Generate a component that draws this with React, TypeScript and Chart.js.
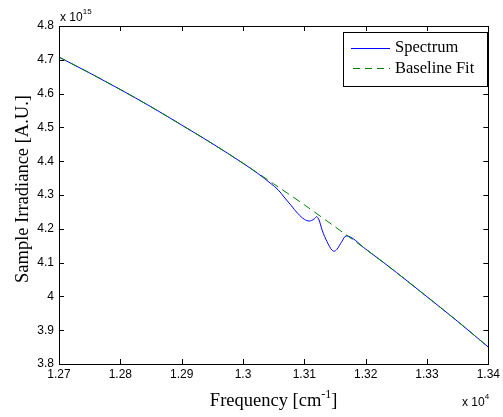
import React, { useEffect, useRef } from "react";
import { Chart, registerables } from "chart.js";

Chart.register(...registerables);

// Frequency values in units of 1e4 cm^-1, irradiance in units of 1e15
const baselineFreq = [1.270, 1.275, 1.280, 1.285, 1.290, 1.295, 1.300, 1.305, 1.310, 1.315, 1.320, 1.325, 1.330, 1.335, 1.340];
const baselineVals = [4.708, 4.661, 4.612, 4.561, 4.507, 4.452, 4.394, 4.333, 4.271, 4.206, 4.140, 4.071, 3.999, 3.926, 3.850];

const spectrumFreq = [1.270, 1.275, 1.280, 1.285, 1.290, 1.295, 1.300, 1.3024, 1.3035, 1.3046, 1.3057, 1.3067, 1.3078, 1.3089, 1.3100, 1.3108, 1.3116, 1.3120, 1.3124, 1.3129, 1.3137, 1.3145, 1.3149, 1.3153, 1.3161, 1.3168, 1.320, 1.325, 1.330, 1.335, 1.340];
const spectrumVals = [4.708, 4.661, 4.612, 4.561, 4.507, 4.452, 4.394, 4.364, 4.349, 4.333, 4.316, 4.294, 4.270, 4.246, 4.228, 4.223, 4.229, 4.236, 4.226, 4.196, 4.162, 4.137, 4.134, 4.139, 4.162, 4.179, 4.140, 4.071, 3.999, 3.926, 3.850];

const xTicks = [1.27, 1.28, 1.29, 1.30, 1.31, 1.32, 1.33, 1.34];
const yTicks = [3.8, 3.9, 4.0, 4.1, 4.2, 4.3, 4.4, 4.5, 4.6, 4.7, 4.8];

const legendLabels = ["Spectrum", "Baseline Fit"];
const xTitle = "Frequency [cm";
const xTitleSup = "-1";
const yTitle = "Sample Irradiance [A.U.]";

const SERIF = "'Liberation Serif', 'Times New Roman', serif";
const SANS = "'Liberation Sans', Arial, sans-serif";

const fmt = (v: number) => String(Math.round(v * 1000) / 1000);

const decorPlugin = {
  id: "decor",
  afterDraw(chart: any) {
    const { ctx, chartArea } = chart;
    const { left, right, top, bottom } = chartArea;
    const xs = chart.scales.x;
    const ys = chart.scales.y;
    ctx.save();
    // box
    ctx.strokeStyle = "#000";
    ctx.lineWidth = 1;
    ctx.beginPath();
    ctx.rect(Math.round(left) + 0.5, Math.round(top) + 0.5, Math.round(right - left), Math.round(bottom - top));
    ctx.stroke();
    // inward ticks
    const tl = 5;
    ctx.beginPath();
    xTicks.forEach((v) => {
      const px = Math.round(xs.getPixelForValue(v)) + 0.5;
      ctx.moveTo(px, bottom);
      ctx.lineTo(px, bottom - tl);
      ctx.moveTo(px, top);
      ctx.lineTo(px, top + tl);
    });
    yTicks.forEach((v) => {
      const py = Math.round(ys.getPixelForValue(v)) + 0.5;
      ctx.moveTo(left, py);
      ctx.lineTo(left + tl, py);
      ctx.moveTo(right, py);
      ctx.lineTo(right - tl, py);
    });
    ctx.stroke();

    // exponent labels
    ctx.fillStyle = "#000";
    ctx.textBaseline = "alphabetic";
    ctx.textAlign = "left";
    ctx.font = `12px ${SANS}`;
    ctx.fillText("x 10", left + 1, top - 5);
    let w = ctx.measureText("x 10").width;
    ctx.font = `8px ${SANS}`;
    ctx.fillText("15", left + 1 + w, top - 12);

    ctx.font = `12px ${SANS}`;
    ctx.fillText("x 10", 462, 406);
    w = ctx.measureText("x 10").width;
    ctx.font = `8px ${SANS}`;
    ctx.fillText("4", 462 + w, 399);

    // x title
    const tf = 18.5;
    ctx.font = `${tf}px ${SERIF}`;
    const w1 = ctx.measureText(xTitle).width;
    ctx.font = `12px ${SERIF}`;
    const w2 = ctx.measureText(xTitleSup).width;
    ctx.font = `${tf}px ${SERIF}`;
    const w3 = ctx.measureText("]").width;
    const total = w1 + w2 + w3;
    const cx = (left + right) / 2;
    let sx = cx - total / 2;
    const by = 406;
    ctx.fillText(xTitle, sx, by);
    sx += w1;
    ctx.font = `12px ${SERIF}`;
    ctx.fillText(xTitleSup, sx, by - 8);
    sx += w2;
    ctx.font = `${tf}px ${SERIF}`;
    ctx.fillText("]", sx, by);

    // y title
    ctx.save();
    ctx.translate(28, (top + bottom) / 2 - 6);
    ctx.rotate(-Math.PI / 2);
    ctx.textAlign = "center";
    ctx.font = `${tf}px ${SERIF}`;
    ctx.fillText(yTitle, 0, 0);
    ctx.restore();

    // legend
    const lx = 343, ly = 32, lw = 144, lh = 54;
    ctx.fillStyle = "#fff";
    ctx.fillRect(lx, ly, lw, lh);
    ctx.strokeStyle = "#000";
    ctx.lineWidth = 1;
    ctx.strokeRect(lx + 0.5, ly + 0.5, lw, lh);
    ctx.beginPath();
    ctx.strokeStyle = "#0000ff";
    ctx.moveTo(351, 48.5);
    ctx.lineTo(390, 48.5);
    ctx.stroke();
    ctx.beginPath();
    ctx.strokeStyle = "#008000";
    ctx.setLineDash([7, 5]);
    ctx.moveTo(353, 68.5);
    ctx.lineTo(390, 68.5);
    ctx.stroke();
    ctx.setLineDash([]);
    ctx.fillStyle = "#000";
    ctx.font = `16.5px ${SERIF}`;
    ctx.textAlign = "left";
    ctx.textBaseline = "middle";
    ctx.fillText(legendLabels[0], 395, 48);
    ctx.fillText(legendLabels[1], 395, 69);
    ctx.restore();
  },
};

export default function App() {
  const ref = useRef<HTMLCanvasElement>(null);
  useEffect(() => {
    document.body.style.margin = "0";
    const canvas = ref.current;
    if (!canvas) return;
    const chart = new Chart(canvas, {
      type: "line",
      data: {
        datasets: [
          {
            label: legendLabels[1],
            data: baselineFreq.map((f, i) => ({ x: f, y: baselineVals[i] })),
            borderColor: "#008000",
            borderWidth: 1,
            borderDash: [8, 5],
            pointRadius: 0,
            tension: 0.3,
            fill: false,
            order: 0,
          },
          {
            label: legendLabels[0],
            data: spectrumFreq.map((f, i) => ({ x: f, y: spectrumVals[i] })),
            borderColor: "#0000ff",
            borderWidth: 1,
            pointRadius: 0,
            cubicInterpolationMode: "monotone",
            fill: false,
            order: 1,
          },
        ],
      },
      options: {
        animation: false,
        responsive: false,
        devicePixelRatio: 1,
        layout: { padding: { top: 26, right: 10, left: 0, bottom: 0 } },
        plugins: { legend: { display: false }, tooltip: { enabled: false } },
        scales: {
          x: {
            type: "linear",
            min: 1.27,
            max: 1.34,
            afterFit: (s: any) => { s.height = 53; },
            afterBuildTicks: (s: any) => { s.ticks = xTicks.map((v) => ({ value: v })); },
            grid: { display: false, drawTicks: false },
            border: { display: true, color: "#000" },
            ticks: {
              padding: 3,
              color: "#000",
              font: { family: SANS, size: 12 },
              maxRotation: 0,
              callback: (v: any) => fmt(Number(v)),
            },
          },
          y: {
            type: "linear",
            min: 3.8,
            max: 4.8,
            afterFit: (s: any) => { s.width = 59; },
            afterBuildTicks: (s: any) => { s.ticks = yTicks.map((v) => ({ value: v })); },
            grid: { display: false, drawTicks: false },
            border: { display: true, color: "#000" },
            ticks: {
              padding: 5,
              color: "#000",
              font: { family: SANS, size: 12 },
              callback: (v: any) => fmt(Number(v)),
            },
          },
        },
      },
      plugins: [decorPlugin],
    } as any);
    return () => chart.destroy();
  }, []);
  return <canvas ref={ref} width={503} height={417} style={{ display: "block" }} />;
}
